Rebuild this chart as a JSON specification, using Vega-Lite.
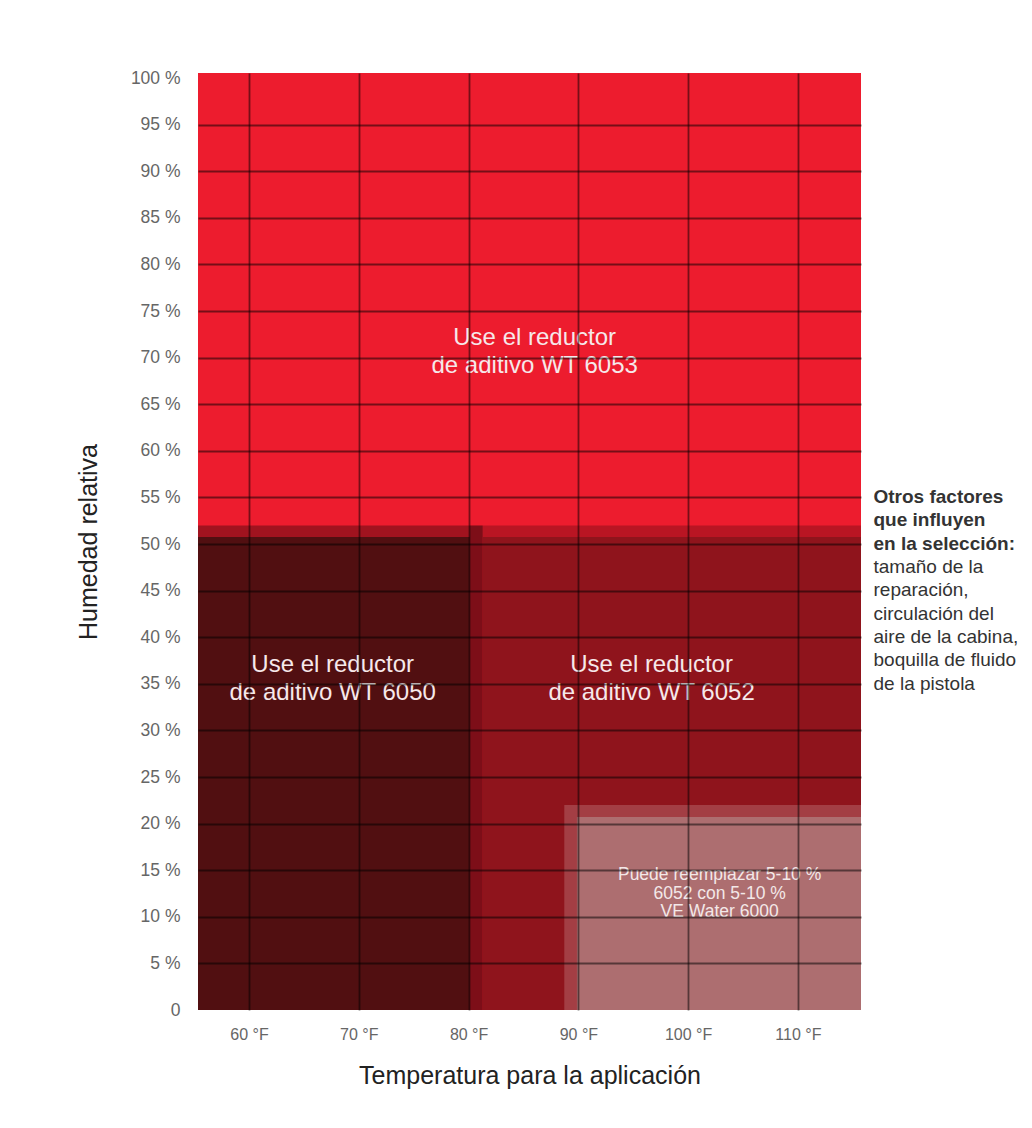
{
  "$schema": "https://vega.github.io/schema/vega-lite/v6.json",
  "width": 663,
  "height": 937,
  "autosize": "none",
  "padding": {"left": 198, "top": 73, "right": 171, "bottom": 118},
  "background": "#ffffff",
  "config": {
    "view": {"stroke": null},
    "font": "Liberation Sans"
  },
  "datasets": {
    "zonas": [
      {"zona": "6053", "x1": 55.35, "x2": 115.75, "y1": 0, "y2": 100.54},
      {"zona": "sombra 6050", "x1": 55.35, "x2": 81.28, "y1": 0, "y2": 52},
      {"zona": "sombra 6052", "x1": 80.1, "x2": 115.75, "y1": 0, "y2": 52},
      {"zona": "6052", "x1": 81.28, "x2": 115.75, "y1": 0, "y2": 50.75},
      {"zona": "6050", "x1": 55.35, "x2": 80.1, "y1": 0, "y2": 50.75},
      {"zona": "sombra agua", "x1": 88.72, "x2": 115.75, "y1": 0, "y2": 22},
      {"zona": "agua", "x1": 89.87, "x2": 115.75, "y1": 0, "y2": 20.7}
    ],
    "etiquetas": [
      {"t": "Use el reductor\nde aditivo WT 6053", "x": 86.02, "y": 72.1},
      {"t": "Use el reductor\nde aditivo WT 6050", "x": 67.62, "y": 37.02},
      {"t": "Use el reductor\nde aditivo WT 6052", "x": 96.67, "y": 37.02}
    ],
    "nota": [
      {"t": "Puede reemplazar 5-10 %\n6052 con 5-10 %\nVE Water 6000", "x": 102.87, "y": 14.48}
    ],
    "factores": [
      {"t": "Otros factores\nque influyen\nen la selección:", "x": 116.89, "y": 55.04}
    ],
    "detalle": [
      {"t": "tamaño de la\nreparación,\ncirculación del\naire de la cabina,\nboquilla de fluido\nde la pistola", "x": 116.89, "y": 47.53}
    ]
  },
  "encoding": {
    "x": {
      "type": "quantitative",
      "scale": {"domain": [55.35, 115.75], "nice": false, "zero": false},
      "axis": {
        "values": [60, 70, 80, 90, 100, 110],
        "labelExpr": "datum.value + ' °F'",
        "grid": true,
        "gridColor": "#000000",
        "gridOpacity": 0.5,
        "gridWidth": 1.8,
        "ticks": false,
        "domain": false,
        "labelFontSize": 16,
        "labelColor": "#666666",
        "labelPadding": 16,
        "title": "Temperatura para la aplicación",
        "titleFontSize": 25,
        "titleFontWeight": "normal",
        "titleColor": "#222222",
        "titleY": 65,
        "titleBaseline": "middle",
        "zindex": 1
      }
    },
    "y": {
      "type": "quantitative",
      "scale": {"domain": [0, 100.54], "nice": false},
      "axis": {
        "values": [0, 5, 10, 15, 20, 25, 30, 35, 40, 45, 50, 55, 60, 65, 70, 75, 80, 85, 90, 95, 100],
        "labelExpr": "datum.value == 0 ? '0' : datum.value + ' %'",
        "grid": true,
        "gridColor": "#000000",
        "gridOpacity": {"condition": {"test": "datum.value == 0 || datum.value == 100", "value": 0}, "value": 0.5},
        "gridWidth": 1.8,
        "ticks": false,
        "domain": false,
        "labelFontSize": 17.5,
        "labelColor": "#666666",
        "labelPadding": 18,
        "title": "Humedad relativa",
        "titleFontSize": 25,
        "titleFontWeight": "normal",
        "titleColor": "#222222",
        "titleX": -110,
        "titleBaseline": "middle",
        "zindex": 1
      }
    }
  },
  "layer": [
    {
      "data": {"name": "zonas"},
      "mark": {"type": "rect", "opacity": 1},
      "encoding": {
        "x": {"field": "x1"},
        "x2": {"field": "x2"},
        "y": {"field": "y1"},
        "y2": {"field": "y2"},
        "color": {
          "field": "zona",
          "type": "nominal",
          "legend": null,
          "scale": {
            "domain": ["6053", "sombra 6050", "sombra 6052", "6052", "6050", "sombra agua", "agua"],
            "range": ["#ED1C2E", "rgba(0,0,0,0.32)", "rgba(0,0,0,0.22)", "#8F141C", "#510F11", "rgba(255,255,255,0.18)", "#AD6E70"]
          }
        }
      }
    },
    {
      "data": {"name": "etiquetas"},
      "mark": {"type": "text", "lineBreak": "\n", "fontSize": 24, "lineHeight": 28, "color": "#F6E8EA", "align": "center", "baseline": "middle"},
      "encoding": {
        "x": {"field": "x"},
        "y": {"field": "y"},
        "text": {"field": "t", "type": "nominal"}
      }
    },
    {
      "data": {"name": "nota"},
      "mark": {"type": "text", "lineBreak": "\n", "fontSize": 17.5, "lineHeight": 18.5, "color": "#F3E8E8", "align": "center", "baseline": "middle"},
      "encoding": {
        "x": {"field": "x"},
        "y": {"field": "y"},
        "text": {"field": "t", "type": "nominal"}
      }
    },
    {
      "data": {"name": "factores"},
      "mark": {"type": "text", "lineBreak": "\n", "fontSize": 19, "fontWeight": "bold", "lineHeight": 23.3, "color": "#333333", "align": "left", "baseline": "middle", "clip": false},
      "encoding": {
        "x": {"field": "x"},
        "y": {"field": "y"},
        "text": {"field": "t", "type": "nominal"}
      }
    },
    {
      "data": {"name": "detalle"},
      "mark": {"type": "text", "lineBreak": "\n", "fontSize": 19, "lineHeight": 23.3, "color": "#333333", "align": "left", "baseline": "middle", "clip": false},
      "encoding": {
        "x": {"field": "x"},
        "y": {"field": "y"},
        "text": {"field": "t", "type": "nominal"}
      }
    }
  ]
}
